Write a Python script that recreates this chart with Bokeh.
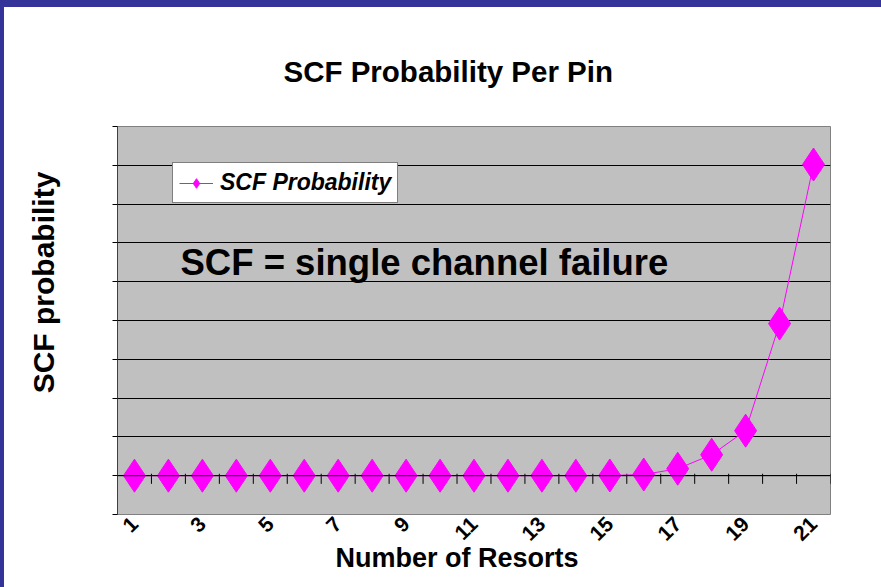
import math
from bokeh.plotting import figure
from bokeh.models import Range1d, FixedTicker, Span, Legend, LegendItem, Label, Div, Title
from bokeh.layouts import column, row
from bokeh.embed import file_html
from bokeh.resources import INLINE

# ---- data ----
resorts = list(range(1, 22))
scf_probability = [0.0, 0.0, 0.0, 0.0, 0.0, 0.0, 0.0, 0.0, 0.0, 0.0, 0.0,
                   0.0, 0.0, 0.0, 0.005, 0.03, 0.18, 0.54, 1.16, 3.92, 8.02]
x_tick_labels = [1, 3, 5, 7, 9, 11, 13, 15, 17, 19, 21]
y_grid_levels = list(range(-1, 10))
title_text = "SCF Probability Per Pin"
x_title = "Number of Resorts"
y_title = "SCF probability"
series_name = "SCF Probability"
note_text = "SCF = single channel failure"

# ---- styles ----
W, H = 881, 587
BAND_TOP, BAND_LEFT = 7, 4
YT_W = 60                      # width of the strip holding the y title
BAND_COLOR = "#333399"
MAGENTA = "#FF00FF"
FONT = "Liberation Sans"

p = figure(width=W - BAND_LEFT - YT_W, height=H - BAND_TOP,
           output_backend="svg", toolbar_location=None,
           x_range=Range1d(resorts[0] - 0.5, resorts[-1] + 0.5),
           y_range=Range1d(y_grid_levels[0], y_grid_levels[-1]),
           min_border_left=117 - BAND_LEFT - YT_W, min_border_right=51,
           min_border_top=119, min_border_bottom=73,
           background_fill_color="#C0C0C0", border_fill_color="white",
           outline_line_color="#808080", outline_line_width=1)

p.title.text = title_text
p.title.align = "left"
p.title.offset = 166
p.title.text_font = FONT
p.title.text_font_style = "bold"
p.title.text_font_size = "29.5px"
p.title.text_color = "black"
p.title.standoff = 78

# grid
p.xgrid.visible = False
p.ygrid.ticker = FixedTicker(ticks=y_grid_levels)
p.ygrid.grid_line_color = "black"
p.ygrid.grid_line_width = 1

# y axis (ticks only, no labels)
p.yaxis.ticker = FixedTicker(ticks=y_grid_levels)
p.yaxis.major_tick_out = 5
p.yaxis.major_tick_in = 0
p.yaxis.minor_tick_line_color = None
p.yaxis.axis_line_color = "#404040"
p.yaxis.major_tick_line_color = "black"
p.yaxis.major_label_overrides = {v: "" for v in y_grid_levels}
p.yaxis.major_label_standoff = 0

# x axis (labels only, at the bottom of the frame)
p.xaxis.ticker = FixedTicker(ticks=x_tick_labels)
p.xaxis.axis_line_color = None
p.xaxis.major_tick_line_color = None
p.xaxis.minor_tick_line_color = None
p.xaxis.major_label_orientation = math.pi / 4
p.xaxis.major_label_standoff = 0
p.xaxis.major_label_text_font = FONT
p.xaxis.major_label_text_font_style = "bold"
p.xaxis.major_label_text_font_size = "21px"
p.xaxis.major_label_text_color = "black"

# x axis title
p.add_layout(Title(text=x_title, align="left", offset=218, standoff=-18,
                   text_font=FONT, text_font_style="bold", text_font_size="27px",
                   text_color="black"), "below")

# category axis line at zero with tick marks between categories
p.add_layout(Span(location=0, dimension="width", line_color="black", line_width=1))
bounds = [r - 0.5 for r in resorts] + [resorts[-1] + 0.5]
p.segment(x0=bounds, x1=bounds, y0=[0.05] * len(bounds), y1=[-0.21] * len(bounds),
          line_color="black", line_width=1)

# series
ln = p.line(resorts, scf_probability, line_color=MAGENTA, line_width=1)
sc = p.scatter(resorts, scf_probability, marker="diamond", size=33,
               fill_color=MAGENTA, line_color=MAGENTA)

legend = Legend(items=[LegendItem(label=series_name, renderers=[ln, sc])],
                location=(55, 311), orientation="vertical",
                background_fill_color="white", background_fill_alpha=1.0,
                border_line_color="black", border_line_width=1,
                label_text_font=FONT, label_text_font_style="bold italic",
                label_text_font_size="23px", label_text_color="black",
                padding=6, margin=0, spacing=0, glyph_width=34, glyph_height=24,
                label_standoff=7)
p.add_layout(legend)

note = Label(x=63, y=252, x_units="screen", y_units="screen", text=note_text,
             text_font=FONT, text_font_style="bold", text_font_size="36.5px",
             text_color="black", text_baseline="alphabetic")
p.add_layout(note)

# strip holding the rotated y-axis title (its frame is aligned with the main frame)
yt = figure(width=YT_W, height=H - BAND_TOP, output_backend="svg", toolbar_location=None,
            x_axis_location=None, y_axis_location=None,
            min_border=0, outline_line_color=None,
            background_fill_color="white", border_fill_color="white")
yt.grid.visible = False
yt.add_layout(Label(x=39, y=232, x_units="screen", y_units="screen", text=y_title,
                    angle=math.pi / 2, text_align="center", text_baseline="middle",
                    text_font=FONT, text_font_style="bold", text_font_size="30px",
                    text_color="black"))

top_band = Div(width=W, height=BAND_TOP, margin=0,
               styles={"background-color": BAND_COLOR})
left_band = Div(width=BAND_LEFT, height=H - BAND_TOP, margin=0,
                styles={"background-color": BAND_COLOR})
layout = column(top_band, row(left_band, yt, p, spacing=0), spacing=0)

open("out.html", "w").write(file_html(layout, INLINE))
